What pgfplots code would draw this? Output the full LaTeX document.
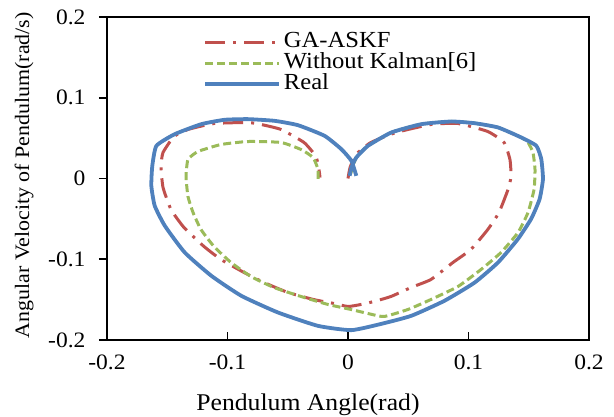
\documentclass[border=0pt]{standalone}
\usepackage{fontspec}
\setmainfont{Liberation Serif}[FakeStretch=1.07]
\usepackage{pgfplots}
\pgfplotsset{compat=1.18}
\definecolor{cred}{RGB}{192,80,77}
\definecolor{cgreen}{RGB}{155,187,89}
\definecolor{cblue}{RGB}{79,129,189}
\begin{document}
\begin{tikzpicture}
\begin{axis}[
  at={(0,0)}, anchor=south west,
  scale only axis, width=482pt, height=323pt,
  xmin=-0.2, xmax=0.2, ymin=-0.2, ymax=0.2,
  xtick={-0.2,-0.1,0,0.1,0.2}, xticklabels={-0.2,-0.1,0,0.1,0.2},
  ytick={-0.2,-0.1,0,0.1,0.2}, yticklabels={-0.2,-0.1,0,0.1,0.2},
  tick pos=left, xtick align=inside, ytick align=outside,
  major tick length=8pt,
  tick style={line width=1.6pt, black},
  axis line style={line width=2.2pt},
  ticklabel style={font=\fontsize{22}{24}\selectfont},
  xticklabel style={yshift=-11pt},
  yticklabel style={xshift=-10pt},
  xlabel={Pendulum Angle(rad)},
  ylabel={Angular Velocity of Pendulum(rad/s)},
  every axis x label/.style={at={(axis description cs:0.417,-0.201)}, anchor=center, font=\fontsize{24}{26}\selectfont},
  every axis y label/.style={at={(axis description cs:-0.172,0.51)}, anchor=center, rotate=90, font=\fontsize{20.5}{23}\selectfont},
  legend cell align=left,
  legend style={draw=none, fill=none, at={(axis description cs:0.199,0.955)}, anchor=north west,
    font=\fontsize{23}{24}\selectfont, row sep=0pt, inner sep=0pt,
    nodes={text height=15.5pt, text depth=5.5pt, inner ysep=0pt, inner xsep=3pt}},
  legend image code/.code={\draw[#1] (0pt,0pt) -- (74pt,0pt);},
]
\addplot[cred, line width=3pt, line join=round, dash pattern=on 20pt off 8pt on 3pt off 8pt, smooth, tension=0.3] coordinates {
(0,0) (0.0017,0.0136) (0.0066,0.0297) (0.019,0.0446) (0.040,0.057) (0.0689,0.0669) (0.0913,0.0681)
(0.116,0.0582) (0.1295,0.0446) (0.1344,0.0235) (0.1353,0.0025) (0.1328,-0.0136) (0.1253,-0.0421)
(0.116,-0.0632) (0.102,-0.0879) (0.0871,-0.104) (0.0689,-0.125) (0.0523,-0.135) (0.0357,-0.1461)
(0.0216,-0.1523) (0.0108,-0.156) (0,-0.1585) (-0.0116,-0.1548) (-0.0282,-0.150) (-0.0498,-0.1412)
(-0.0697,-0.1288) (-0.0863,-0.1164) (-0.1054,-0.1003) (-0.1195,-0.0842) (-0.1361,-0.0607)
(-0.1469,-0.0384) (-0.1535,-0.0111) (-0.1552,0.0149) (-0.1535,0.0322) (-0.1444,0.052)
(-0.1328,0.0607) (-0.1112,0.0681) (-0.083,0.0693) (-0.0722,0.0669) (-0.0556,0.0607)
(-0.0365,0.0446) (-0.0266,0.0272) (-0.0241,0.0111) (-0.0232,0.0012)
};
\addlegendentry{GA-ASKF}
\addplot[cgreen, line width=3pt, line join=round, dash pattern=on 8pt off 4pt, smooth, tension=0.3] coordinates {
(0.002,0.005) (0.0069,0.026) (0.0166,0.0405) (0.036,0.057) (0.0609,0.0673) (0.0858,0.0706)
(0.105,0.0685) (0.1245,0.0632) (0.1438,0.0508) (0.1494,0.0446) (0.1535,0.0322) (0.1552,0.0111)
(0.1544,-0.0136) (0.1494,-0.0421) (0.1411,-0.0669) (0.127,-0.0916) (0.1104,-0.1127)
(0.0913,-0.1337) (0.0689,-0.1498) (0.0498,-0.1622) (0.0299,-0.1709) (0.0166,-0.1672)
(0.0025,-0.1622) (-0.0166,-0.156) (-0.039,-0.1461) (-0.0614,-0.135) (-0.0805,-0.1214)
(-0.0971,-0.104) (-0.1112,-0.0842) (-0.122,-0.0632) (-0.1286,-0.0421) (-0.1328,-0.0223)
(-0.1344,0.0025) (-0.1328,0.0235) (-0.1245,0.0334) (-0.1054,0.0421) (-0.083,0.0458)
(-0.0556,0.0446) (-0.039,0.0359) (-0.029,0.026) (-0.0249,0.0111) (-0.0249,-0.005)
};
\addlegendentry{Without Kalman[6]}
\addplot[cblue, line width=3.8pt, line join=round, smooth, tension=0.3] coordinates {
(0.0014,0.0033) (0.0028,0.0136) (0.0069,0.026) (0.0166,0.0405) (0.036,0.057) (0.0609,0.0673)
(0.0858,0.0706) (0.105,0.0685) (0.1245,0.0632) (0.1438,0.0508) (0.1563,0.0405) (0.1604,0.024)
(0.1618,-0.0008) (0.159,-0.0256) (0.152,-0.050) (0.141,-0.075) (0.1245,-0.104) (0.105,-0.129)
(0.080,-0.1515) (0.0526,-0.170) (0.0277,-0.180) (0.0028,-0.1878) (-0.0249,-0.1825)
(-0.058,-0.166) (-0.0885,-0.1453) (-0.1134,-0.1205) (-0.1355,-0.0916) (-0.152,-0.0586)
(-0.1604,-0.0338) (-0.1632,-0.0091) (-0.1624,0.0157) (-0.159,0.0405) (-0.1438,0.0549)
(-0.1217,0.0673) (-0.1024,0.0727) (-0.083,0.0735) (-0.0609,0.0714) (-0.0415,0.066)
(-0.0194,0.0528) (-0.0055,0.0363) (0.0028,0.0219) (0.0069,0.0033)
};
\addlegendentry{Real}
\end{axis}
\pgfresetboundingbox
\path (-107pt,-77pt) rectangle (507pt,340pt);
\end{tikzpicture}
\end{document}
